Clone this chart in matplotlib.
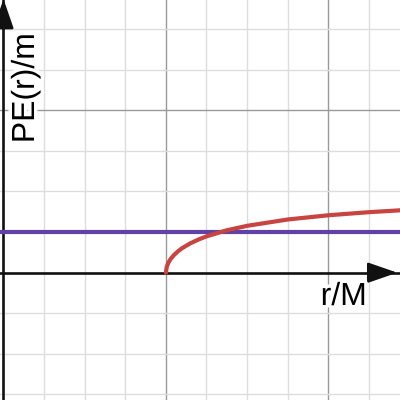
import numpy as np
import matplotlib
matplotlib.use("Agg")
import matplotlib.pyplot as plt
import matplotlib.patheffects as pe

# Data
r_vals = [2.0, 2.01, 2.03, 2.06, 2.1, 2.15, 2.2, 2.3, 2.4, 2.5, 2.75, 3.0, 3.5, 4.0, 4.5, 5.0]
pe_vals = [0.0, 0.07, 0.122, 0.171, 0.218, 0.264, 0.302, 0.361, 0.408, 0.447, 0.522, 0.577, 0.655, 0.707, 0.745, 0.775]
level = 0.5
x_label = "r/M"
y_label = "PE(r)/m"

plt.rcParams['font.family'] = ['Liberation Sans', 'DejaVu Sans']

fig = plt.figure(figsize=(4, 4), dpi=100)
ax = fig.add_axes([0, 0, 1, 1])
xmin, xmax = -0.043, 4.883
ymin, ymax = -1.568, 3.358
ax.set_xlim(xmin, xmax)
ax.set_ylim(ymin, ymax)
ax.axis('off')

# grid
for gx in np.arange(0.5, 5.0, 0.5):
    major = abs(gx % 2) < 1e-9
    ax.axvline(gx, color='#999999' if major else '#dddddd', lw=1.0, zorder=0)
for gy in np.arange(-1.5, 3.5, 0.5):
    if abs(gy) < 1e-9:
        continue
    major = abs(gy % 2) < 1e-9
    ax.axhline(gy, color='#999999' if major else '#dddddd', lw=1.0, zorder=0)

# axes
ax.axhline(0, color='#111111', lw=1.9, zorder=2)
ax.axvline(0, color='#111111', lw=1.9, zorder=2)
ax.annotate('', xy=(4.85, 0), xytext=(4.5, 0), annotation_clip=False,
            arrowprops=dict(arrowstyle='-|>,head_length=1.3,head_width=0.45', color='#111111', lw=1.8,
                            shrinkA=0, shrinkB=0, mutation_scale=14), zorder=3)
ax.annotate('', xy=(0, 3.37), xytext=(0, 3.0), annotation_clip=False,
            arrowprops=dict(arrowstyle='-|>,head_length=1.3,head_width=0.45', color='#111111', lw=1.8,
                            shrinkA=0, shrinkB=0, mutation_scale=14), zorder=3)

# curves
ax.axhline(level, color='#6042a6', lw=3.0, zorder=4)
ax.plot(r_vals, pe_vals, color='#c74440', lw=3.0, zorder=5, solid_capstyle='round')

halo = [pe.withStroke(linewidth=5, foreground='white')]
ax.text(4.19, -0.398, x_label, fontsize=23, ha='center', va='baseline', color='black',
        path_effects=halo, zorder=6)
ax.text(0.277, 2.275, y_label, fontsize=23, ha='center', va='center', rotation=90, color='black',
        path_effects=halo, zorder=6)

fig.savefig('out.png', dpi=100)
